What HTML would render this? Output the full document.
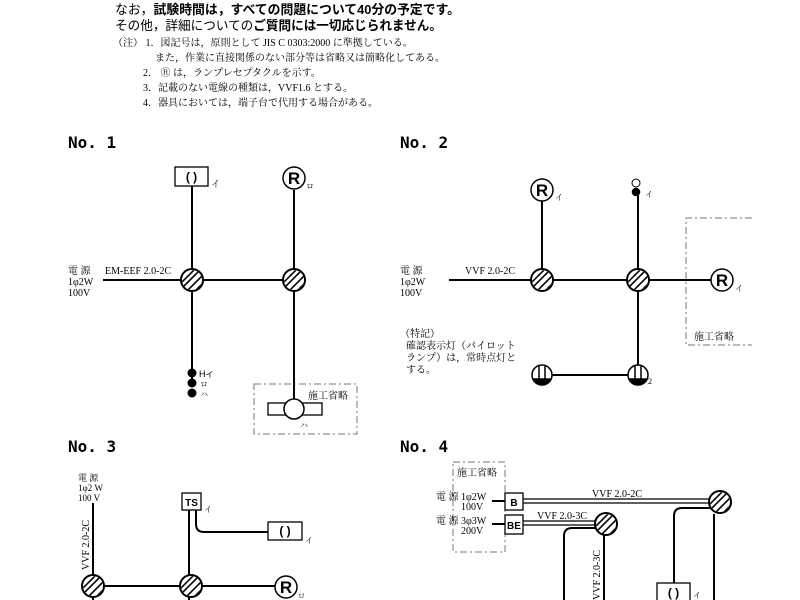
<!DOCTYPE html>
<html><head><meta charset="utf-8"><style>
html,body{margin:0;padding:0;background:#fff;}
svg{display:block;font-family:"Liberation Serif","Noto Serif CJK SC","Noto Sans CJK JP",serif;}
.m{font-family:"DejaVu Sans Mono","Liberation Mono",monospace;font-size:16px;font-weight:bold;}
.g{font-family:"Liberation Sans","Noto Sans CJK JP",sans-serif;}
</style></head><body>
<svg width="800" height="600" viewBox="0 0 800 600" xmlns="http://www.w3.org/2000/svg">
<defs>
<g id="J"><circle r="11" fill="#fff" stroke="#000" stroke-width="2"/>
<clipPath id="c"><circle r="10"/></clipPath>
<g clip-path="url(#c)" stroke="#000" stroke-width="1.6"><line x1="-12" y1="4" x2="4" y2="-12"/><line x1="-12" y1="10" x2="10" y2="-12"/><line x1="-6" y1="12" x2="12" y2="-6"/><line x1="0" y1="14" x2="14" y2="0"/><line x1="-16" y1="0" x2="0" y2="-16"/></g></g>
<g id="R"><circle r="11" fill="#fff" stroke="#000" stroke-width="1.5"/><text x="0" y="6" text-anchor="middle" class="g" font-size="17" font-weight="bold">R</text></g>
<g id="P"><circle r="10" fill="#fff" stroke="#000" stroke-width="1.5"/><path d="M-9.2,4 A10,10 0 0 0 9.2,4 Z" fill="#000"/><line x1="-10" y1="4" x2="10" y2="4" stroke="#000" stroke-width="1.5"/><line x1="-3" y1="-9" x2="-3" y2="4" stroke="#000" stroke-width="1.5"/><line x1="3" y1="-9" x2="3" y2="4" stroke="#000" stroke-width="1.5"/></g>
</defs>
<g font-family="'Liberation Sans','Noto Sans CJK JP',sans-serif" font-size="13" textLength="345">
<text x="115" y="14" textLength="345" lengthAdjust="spacingAndGlyphs">なお，<tspan font-weight="bold">試験時間は，すべての問題について40分の予定です。</tspan></text>
<text x="115" y="30" textLength="327" lengthAdjust="spacingAndGlyphs">その他，詳細についての<tspan font-weight="bold">ご質問には一切応じられません。</tspan></text>
</g>
<g font-size="10">
<text x="113" y="46">（注） 1．図記号は，原則として JIS C 0303:2000 に準拠している。</text>
<text x="155" y="61">また，作業に直接関係のない部分等は省略又は簡略化してある。</text>
<text x="143" y="76">2．  <tspan>Ⓡ</tspan> は，ランプレセプタクルを示す。</text>
<text x="143" y="91">3．記載のない電線の種類は，VVF1.6 とする。</text>
<text x="143" y="106">4．器具においては，端子台で代用する場合がある。</text>
</g>
<g stroke="#000" stroke-width="2" fill="none">
<line x1="103" y1="280" x2="294" y2="280"/>
<line x1="192" y1="186" x2="192" y2="385"/>
<line x1="294" y1="190" x2="294" y2="400"/>
<line x1="449" y1="280" x2="711" y2="280"/>
<line x1="542" y1="201" x2="542" y2="280"/>
<line x1="638" y1="193" x2="638" y2="375"/>
<line x1="542" y1="375" x2="638" y2="375"/>
<line x1="93" y1="503" x2="93" y2="600"/>
<line x1="93" y1="586" x2="275" y2="586"/>
<line x1="189" y1="510" x2="189" y2="600"/>
<path d="M196,510 V524 Q196,532 204,532 H268"/>
<line x1="492" y1="501" x2="505" y2="501"/>
<line x1="492" y1="524" x2="505" y2="524"/>
<path d="M564,600 V536 Q564,528 572,528 H598"/>
<line x1="604" y1="535" x2="604" y2="600"/>
<path d="M674,583 V516 Q674,508 682,508 H712"/>
<line x1="714" y1="514" x2="714" y2="600"/>
</g>
<g stroke="#000" stroke-width="1.3">
<line x1="523" y1="499" x2="712" y2="499"/><line x1="523" y1="503" x2="712" y2="503"/>
<line x1="523" y1="521" x2="598" y2="521"/><line x1="523" y1="525" x2="598" y2="525"/>
</g>
<rect x="175" y="167" width="33" height="19" fill="#fff" stroke="#000" stroke-width="1.3"/>
<text x="191.5" y="181" text-anchor="middle" class="g" font-size="12" font-weight="bold">( )</text>
<text x="211" y="187" font-size="9">イ</text>
<use href="#R" x="294" y="178"/><text x="306" y="189" font-size="8">ロ</text>
<use href="#J" x="192" y="280"/><use href="#J" x="294" y="280"/>
<circle cx="192" cy="373" r="4.5"/><circle cx="192" cy="383" r="4.5"/><circle cx="192" cy="393" r="4.5"/>
<text x="199" y="377" font-size="9" class="g">H<tspan font-size="8">イ</tspan></text>
<text x="200" y="387" font-size="8">ロ</text><text x="200" y="397" font-size="8">ハ</text>
<rect x="254" y="384" width="103" height="50" fill="none" stroke="#777" stroke-dasharray="7,3,2,3"/>
<text x="308" y="399" font-size="10">施工省略</text>
<rect x="268" y="403" width="54" height="12" fill="#fff" stroke="#000" stroke-width="1.3"/>
<circle cx="294" cy="409" r="10" fill="#fff" stroke="#000" stroke-width="1.5"/>
<text x="300" y="428" font-size="8">ハ</text>
<text x="68" y="148" class="m">No. 1</text>
<g font-size="10"><text x="68" y="274">電 源</text><text x="68" y="285">1φ2W</text><text x="68" y="296">100V</text></g>
<text x="105" y="274" font-size="10">EM-EEF 2.0-2C</text>
<text x="400" y="148" class="m">No. 2</text>
<use href="#R" x="542" y="190"/><text x="555" y="200" font-size="8">イ</text>
<use href="#J" x="542" y="280"/><use href="#J" x="638" y="280"/>
<use href="#R" x="722" y="280"/><text x="735" y="291" font-size="8">イ</text>
<circle cx="636" cy="183" r="4" fill="#fff" stroke="#000"/><circle cx="636" cy="192" r="4.3"/>
<text x="645" y="197" font-size="8">イ</text>
<path d="M752,218 H686 V345 H752" fill="none" stroke="#777" stroke-dasharray="7,3,2,3"/>
<text x="694" y="340" font-size="10">施工省略</text>
<use href="#P" x="542" y="375"/><use href="#P" x="638" y="375"/>
<text x="648" y="384" font-size="8">2</text>
<g font-size="10"><text x="400" y="274">電 源</text><text x="400" y="285">1φ2W</text><text x="400" y="296">100V</text>
<text x="465" y="274">VVF 2.0-2C</text>
<text x="400" y="337">（特記）</text><text x="406" y="349">確認表示灯（パイロット</text><text x="406" y="361">ランプ）は，常時点灯と</text><text x="406" y="373">する。</text></g>
<text x="68" y="452" class="m">No. 3</text>
<g font-size="9"><text x="78" y="481">電 源</text><text x="78" y="491">1φ2 W</text><text x="78" y="501">100 V</text></g>
<text transform="translate(89,570) rotate(-90)" font-size="10">VVF 2.0-2C</text>
<rect x="182" y="493" width="19" height="17" fill="#fff" stroke="#000" stroke-width="1.3"/>
<text x="191.5" y="506" text-anchor="middle" class="g" font-size="10" font-weight="bold">TS</text>
<text x="204" y="512" font-size="8">イ</text>
<rect x="268" y="522" width="34" height="18" fill="#fff" stroke="#000" stroke-width="1.3"/>
<text x="285" y="535" text-anchor="middle" class="g" font-size="12" font-weight="bold">( )</text>
<text x="305" y="543" font-size="8">イ</text>
<use href="#J" x="93" y="586"/><use href="#J" x="191" y="586"/>
<use href="#R" x="286" y="587"/><text x="298" y="598" font-size="7">ロ</text>
<text x="400" y="452" class="m">No. 4</text>
<rect x="453" y="462" width="52" height="90" fill="none" stroke="#777" stroke-dasharray="7,3,2,3"/>
<text x="457" y="476" font-size="10">施工省略</text>
<g font-size="10"><text x="436" y="500">電 源 1φ2W</text><text x="461" y="510">100V</text>
<text x="436" y="524">電 源 3φ3W</text><text x="461" y="534">200V</text></g>
<rect x="505" y="493" width="18" height="17" fill="#fff" stroke="#000" stroke-width="1.3"/>
<text x="514" y="506" text-anchor="middle" class="g" font-size="10" font-weight="bold">B</text>
<rect x="505" y="515" width="18" height="19" fill="#fff" stroke="#000" stroke-width="1.3"/>
<text x="514" y="529" text-anchor="middle" class="g" font-size="10" font-weight="bold">BE</text>
<text x="592" y="497" font-size="10">VVF 2.0-2C</text>
<text x="537" y="519" font-size="10">VVF 2.0-3C</text>
<use href="#J" x="606" y="524"/><use href="#J" x="720" y="502"/>
<text transform="translate(600,600) rotate(-90)" font-size="10">VVF 2.0-3C</text>
<rect x="657" y="583" width="33" height="20" fill="#fff" stroke="#000" stroke-width="1.3"/>
<text x="673.5" y="597" text-anchor="middle" class="g" font-size="12" font-weight="bold">( )</text>
<text x="693" y="598" font-size="8">イ</text>
</svg>
</body></html>
